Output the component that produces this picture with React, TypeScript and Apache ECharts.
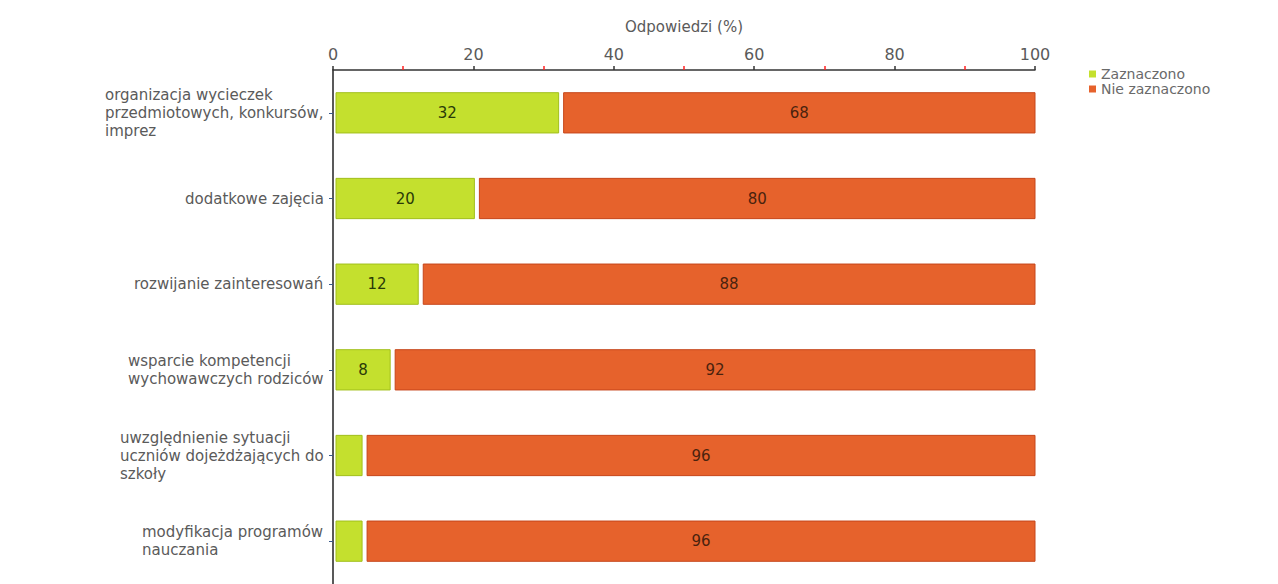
import React, { useEffect, useRef } from "react";
import * as echarts from "echarts";

const categories = [
  "organizacja wycieczek\nprzedmiotowych, konkursów,\nimprez",
  "dodatkowe zajęcia",
  "rozwijanie zainteresowań",
  "wsparcie kompetencji\nwychowawczych rodziców",
  "uwzględnienie sytuacji\nuczniów dojeżdżających do\nszkoły",
  "modyfikacja programów\nnauczania",
];
const zaznaczono = [32, 20, 12, 8, 4, 4];
const nieZaznaczono = [68, 80, 88, 92, 96, 96];
const seriesNames = ["Zaznaczono", "Nie zaznaczono"];
const xTicks = [0, 20, 40, 60, 80, 100];

const FONT = "'DejaVu Sans', Verdana, sans-serif";
const GREEN = "#c4e02e";
const GREEN_EDGE = "#a2bf1c";
const ORANGE = "#e6622c";
const ORANGE_EDGE = "#c6461b";
const CAT_SIZE = 15;

function measure(s: string, size: number): number {
  const c = document.createElement("canvas").getContext("2d");
  if (!c) return s.length * size * 0.6;
  c.font = `${size}px 'DejaVu Sans'`;
  return c.measureText(s).width;
}

export default function App() {
  const ref = useRef<HTMLDivElement>(null);

  useEffect(() => {
    if (!ref.current) return;
    const chart = echarts.init(ref.current, undefined, { renderer: "svg" });

    const rich: Record<string, any> = {};
    categories.forEach((c, i) => {
      const w = Math.max(...c.split("\n").map((l) => measure(l, CAT_SIZE)));
      rich["c" + i] = {
        width: Math.ceil(w) + 1,
        align: "left",
        fontSize: CAT_SIZE,
        fontFamily: FONT,
        color: "#5a5a5a",
        lineHeight: 18,
      };
    });

    const makeRender = (fill: string, edge: string, labelColor: string, isFirst: boolean) =>
      (params: any, api: any) => {
        const cat = api.value(0);
        const start = api.value(1);
        const end = api.value(2);
        const p0 = api.coord([start, cat]);
        const p1 = api.coord([end, cat]);
        const h = api.size([0, 1])[1] * 0.47;
        const x0 = isFirst ? p0[0] + 3 : p0[0] + 6;
        const x1 = isFirst ? p1[0] + 1 : p1[0];
        const w = x1 - x0;
        const children: any[] = [
          {
            type: "rect",
            shape: { x: x0, y: p0[1] - h / 2, width: w, height: h },
            style: { fill, stroke: edge, lineWidth: 1 },
          },
        ];
        if (w > 34) {
          children.push({
            type: "text",
            x: x0 + w / 2,
            y: p0[1],
            style: {
              text: String(end - start),
              fill: labelColor,
              font: `15px ${FONT}`,
              align: "center",
              verticalAlign: "middle",
            },
          });
        }
        return { type: "group", children };
      };

    chart.setOption({
      animation: false,
      backgroundColor: "#ffffff",
      grid: { left: 333, right: 243, top: 70, height: 522, containLabel: false },
      legend: {
        orient: "vertical",
        left: 1084,
        top: 62,
        itemWidth: 7,
        itemHeight: 7,
        itemGap: 1,
        icon: "rect",
        data: seriesNames,
        textStyle: { fontSize: 14, fontFamily: FONT, color: "#6a6a6a", lineHeight: 14 },
      },
      xAxis: {
        type: "value",
        position: "top",
        min: 0,
        max: 100,
        interval: 20,
        name: "Odpowiedzi (%)",
        nameLocation: "middle",
        nameGap: 36,
        nameTextStyle: { fontSize: 15, fontFamily: FONT, color: "#5a5a5a" },
        axisLine: { show: true, lineStyle: { color: "#333", width: 1.5 } },
        axisTick: { show: true, length: 4, lineStyle: { color: "#333", width: 1.5 } },
        minorTick: { show: true, splitNumber: 2, length: 4, lineStyle: { color: "#ff2020", width: 1.5 } },
        splitLine: { show: false },
        axisLabel: {
          fontSize: 16,
          fontFamily: FONT,
          color: "#5a5a5a",
          margin: 8,
          formatter: (v: number) => (xTicks.includes(v) ? String(v) : ""),
        },
      },
      yAxis: {
        type: "category",
        inverse: true,
        data: categories,
        axisLine: { show: true, lineStyle: { color: "#222", width: 1.5 } },
        axisTick: { show: true, alignWithLabel: true, length: 4, lineStyle: { color: "#3a5a8a" } },
        splitLine: { show: false },
        axisLabel: {
          margin: 8,
          formatter: (value: string) => {
            const idx = categories.indexOf(value);
            return value
              .split("\n")
              .map((l) => `{c${idx}|${l}}`)
              .join("\n");
          },
          rich,
        },
      },
      series: [
        {
          name: seriesNames[0],
          type: "custom",
          itemStyle: { color: GREEN },
          encode: { x: [1, 2], y: 0 },
          data: zaznaczono.map((v, i) => [i, 0, v]),
          renderItem: makeRender(GREEN, GREEN_EDGE, "#2a3a08", true),
        },
        {
          name: seriesNames[1],
          type: "custom",
          itemStyle: { color: ORANGE },
          encode: { x: [1, 2], y: 0 },
          data: nieZaznaczono.map((v, i) => [i, zaznaczono[i], zaznaczono[i] + v]),
          renderItem: makeRender(ORANGE, ORANGE_EDGE, "#4a220e", false),
        },
      ],
    });

    return () => chart.dispose();
  }, []);

  return (
    <div
      ref={ref}
      style={{ position: "fixed", left: 0, top: 0, width: 1278, height: 584, background: "#fff" }}
    />
  );
}
